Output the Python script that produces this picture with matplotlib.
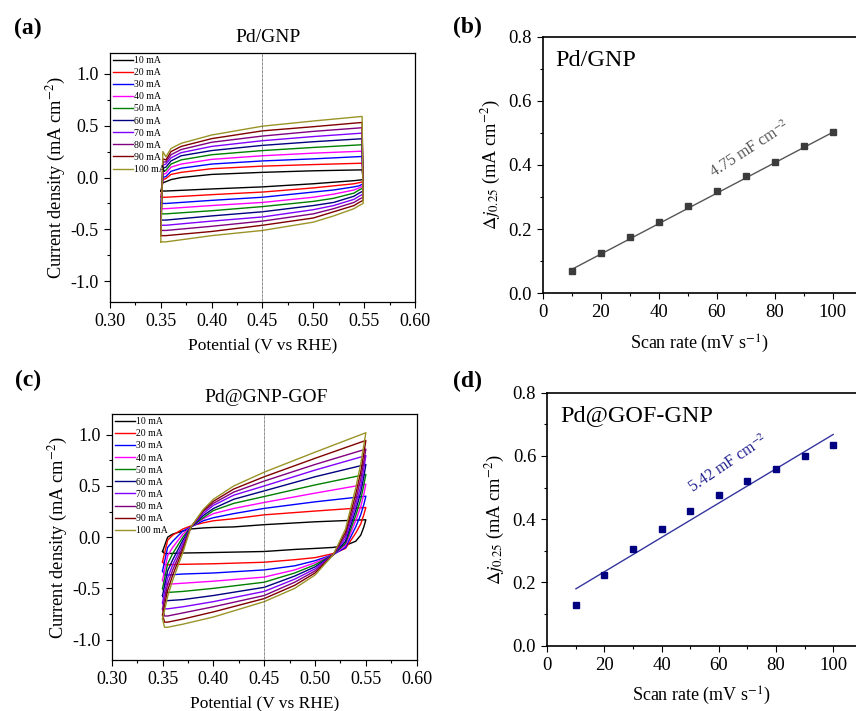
import matplotlib
matplotlib.use("Agg")
import matplotlib.pyplot as plt
from matplotlib.ticker import MultipleLocator

plt.rcParams['font.family'] = ['Liberation Serif', 'DejaVu Serif']
plt.rcParams['mathtext.fontset'] = 'stix'

# scan rate labels and colours used in both CV panels
labels = ["10 mA", "20 mA", "30 mA", "40 mA", "50 mA",
          "60 mA", "70 mA", "80 mA", "90 mA", "100 mA"]
colors = ["#000000", "#ff0000", "#0000ff", "#ff00ff", "#008000",
          "#000080", "#8000ff", "#800080", "#800000", "#9a9428"]

# (a) Pd/GNP cyclic voltammograms, anodic branch and cathodic branch
a_up_E = [0.352, 0.355, 0.36, 0.37, 0.40, 0.45, 0.50, 0.548]
a_up = [
    [-0.05, -0.04, -0.02, 0.00, 0.03, 0.05, 0.065, 0.074],
    [-0.02, -0.01, 0.03, 0.05, 0.085, 0.11, 0.125, 0.138],
    [0.00, 0.01, 0.06, 0.09, 0.13, 0.16, 0.18, 0.203],
    [0.03, 0.04, 0.10, 0.13, 0.175, 0.21, 0.235, 0.254],
    [0.06, 0.07, 0.13, 0.17, 0.22, 0.26, 0.29, 0.316],
    [0.09, 0.10, 0.16, 0.21, 0.26, 0.31, 0.345, 0.374],
    [0.12, 0.13, 0.19, 0.24, 0.30, 0.355, 0.395, 0.428],
    [0.15, 0.15, 0.22, 0.27, 0.34, 0.40, 0.445, 0.48],
    [0.18, 0.17, 0.25, 0.30, 0.375, 0.45, 0.49, 0.531],
    [0.25, 0.20, 0.28, 0.33, 0.41, 0.495, 0.545, 0.589],
]
a_dn_E = [0.549, 0.545, 0.54, 0.52, 0.50, 0.45, 0.40, 0.355]
a_dn = [
    [-0.02, -0.025, -0.03, -0.045, -0.06, -0.09, -0.11, -0.13],
    [-0.04, -0.05, -0.06, -0.08, -0.10, -0.14, -0.165, -0.19],
    [-0.06, -0.08, -0.09, -0.12, -0.14, -0.19, -0.22, -0.25],
    [-0.08, -0.10, -0.12, -0.16, -0.19, -0.24, -0.27, -0.30],
    [-0.10, -0.12, -0.15, -0.20, -0.23, -0.28, -0.32, -0.35],
    [-0.13, -0.15, -0.18, -0.24, -0.27, -0.33, -0.37, -0.41],
    [-0.16, -0.18, -0.21, -0.27, -0.31, -0.38, -0.42, -0.46],
    [-0.19, -0.21, -0.24, -0.30, -0.35, -0.42, -0.47, -0.51],
    [-0.22, -0.24, -0.27, -0.33, -0.39, -0.46, -0.52, -0.56],
    [-0.25, -0.27, -0.30, -0.37, -0.43, -0.51, -0.56, -0.62],
]

# (c) Pd@GNP-GOF cyclic voltammograms
c_up_E = [0.350, 0.355, 0.36, 0.37, 0.378, 0.39, 0.40, 0.42, 0.45, 0.50, 0.55]
c_up = [
    [-0.14, 0.00, 0.03, 0.06, 0.08, 0.09, 0.095, 0.10, 0.122, 0.15, 0.17],
    [-0.24, -0.03, 0.02, 0.08, 0.11, 0.14, 0.16, 0.18, 0.218, 0.255, 0.29],
    [-0.33, -0.10, -0.04, 0.06, 0.10, 0.16, 0.19, 0.23, 0.281, 0.345, 0.40],
    [-0.42, -0.18, -0.10, 0.03, 0.10, 0.18, 0.23, 0.28, 0.339, 0.43, 0.517],
    [-0.50, -0.26, -0.16, 0.00, 0.10, 0.19, 0.26, 0.33, 0.397, 0.51, 0.613],
    [-0.57, -0.33, -0.22, -0.03, 0.10, 0.21, 0.28, 0.37, 0.452, 0.59, 0.71],
    [-0.64, -0.40, -0.27, -0.06, 0.10, 0.23, 0.31, 0.41, 0.50, 0.655, 0.797],
    [-0.70, -0.46, -0.32, -0.09, 0.10, 0.25, 0.33, 0.44, 0.548, 0.71, 0.86],
    [-0.76, -0.52, -0.37, -0.12, 0.10, 0.26, 0.35, 0.47, 0.59, 0.77, 0.945],
    [-0.80, -0.58, -0.42, -0.15, 0.10, 0.27, 0.37, 0.50, 0.635, 0.83, 1.02],
]
c_dn_E = [0.548, 0.545, 0.54, 0.53, 0.518, 0.50, 0.48, 0.45, 0.40, 0.37, 0.355, 0.352]
c_dn = [
    [0.10, 0.02, -0.04, -0.08, -0.10, -0.11, -0.12, -0.14, -0.15, -0.155, -0.16, -0.16],
    [0.22, 0.13, 0.04, -0.11, -0.16, -0.20, -0.22, -0.245, -0.26, -0.265, -0.27, -0.27],
    [0.32, 0.22, 0.10, -0.10, -0.17, -0.23, -0.28, -0.32, -0.35, -0.36, -0.37, -0.37],
    [0.42, 0.30, 0.16, -0.08, -0.17, -0.25, -0.32, -0.39, -0.43, -0.45, -0.46, -0.46],
    [0.51, 0.37, 0.21, -0.06, -0.17, -0.27, -0.35, -0.44, -0.50, -0.53, -0.54, -0.54],
    [0.59, 0.44, 0.26, -0.04, -0.17, -0.29, -0.38, -0.49, -0.57, -0.61, -0.62, -0.62],
    [0.67, 0.50, 0.31, -0.01, -0.17, -0.31, -0.41, -0.53, -0.63, -0.68, -0.70, -0.70],
    [0.74, 0.57, 0.36, 0.02, -0.17, -0.33, -0.44, -0.57, -0.68, -0.74, -0.77, -0.77],
    [0.82, 0.64, 0.42, 0.05, -0.17, -0.35, -0.47, -0.60, -0.73, -0.80, -0.83, -0.83],
    [0.90, 0.72, 0.48, 0.08, -0.17, -0.37, -0.50, -0.63, -0.78, -0.85, -0.88, -0.88],
]

# (b) and (d) double-layer current vs scan rate
scan_rate = [10, 20, 30, 40, 50, 60, 70, 80, 90, 100]
dj_b = [0.07, 0.125, 0.175, 0.222, 0.273, 0.318, 0.365, 0.41, 0.458, 0.502]
dj_d = [0.13, 0.225, 0.305, 0.368, 0.426, 0.478, 0.52, 0.56, 0.60, 0.635]
fit_x = [10, 100]
fit_b = [0.0745, 0.502]
fit_d = [0.18, 0.668]

fig = plt.figure(figsize=(8.56, 7.11), dpi=100)


def cv_panel(ax, upE, up, dnE, dn, first_from_dn):
    for i in range(len(labels)):
        if first_from_dn:
            xs = [0.350] + upE + dnE + [0.350]
            ys = [dn[i][-1]] + up[i] + dn[i] + [dn[i][-1]]
        else:
            xs = upE + dnE + [upE[0]]
            ys = up[i] + dn[i] + [up[i][0]]
        ax.plot(xs, ys, color=colors[i], lw=1.0, label=labels[i])
    ax.axvline(0.45, color="#555555", lw=0.6, ls=(0, (1, 0.6)))
    ax.set_xlim(0.30, 0.60)
    ax.set_ylim(-1.2, 1.2)
    ax.xaxis.set_major_locator(MultipleLocator(0.05))
    ax.xaxis.set_minor_locator(MultipleLocator(0.025))
    ax.yaxis.set_minor_locator(MultipleLocator(0.25))
    ax.set_yticks([-1.0, -0.5, 0.0, 0.5, 1.0])
    ax.set_yticklabels(["-1.0", "-0.5", "0.0", "0.5", "1.0"])
    ax.xaxis.set_major_formatter(matplotlib.ticker.FormatStrFormatter('%.2f'))
    ax.tick_params(which="both", direction="out", labelsize=13, top=False, right=False)
    ax.tick_params(which="major", length=4.5, width=0.8)
    ax.tick_params(which="minor", length=2.5, width=0.8)
    ax.set_xlabel("Potential (V vs RHE)", fontsize=12.5, labelpad=5)
    ax.set_ylabel("Current density (mA cm$^{-2}$)", fontsize=13.2, labelpad=2)
    ax.legend(loc="upper left", frameon=False, fontsize=7, handlelength=2.1,
              handletextpad=0.1, labelspacing=0.32, borderaxespad=0.1,
              borderpad=0.2)
    for s in ax.spines.values():
        s.set_linewidth(0.9)


def rate_panel(ax, dj, fit, mcol, lcol, name, slope_txt, tpos, rot, tcol):
    ax.plot(fit_x, fit, color=lcol, lw=1.0)
    ax.plot(scan_rate, dj, ls="none", marker="s", ms=5, color=mcol)
    ax.set_xlim(0, 108)
    ax.set_ylim(0, 0.8)
    ax.xaxis.set_major_locator(MultipleLocator(20))
    ax.xaxis.set_minor_locator(MultipleLocator(10))
    ax.yaxis.set_major_locator(MultipleLocator(0.2))
    ax.yaxis.set_minor_locator(MultipleLocator(0.1))
    ax.yaxis.set_major_formatter(matplotlib.ticker.FormatStrFormatter('%.1f'))
    ax.tick_params(which="both", direction="out", labelsize=13.5, top=False, right=False)
    ax.tick_params(which="major", length=4.5, width=0.8)
    ax.tick_params(which="minor", length=2.5, width=0.8)
    ax.spines["right"].set_visible(False)
    for s in ax.spines.values():
        s.set_linewidth(1.2)
    ax.set_xlabel("Scan rate (mV s$^{-1}$)", fontsize=13, labelpad=8)
    ax.set_ylabel(r"$\Delta j_{0.25}$ (mA cm$^{-2}$)", fontsize=13.2, labelpad=4)
    ax.text(4.5, 0.727, name, fontsize=17.5, va="center", ha="left")
    ax.text(tpos[0], tpos[1], slope_txt, fontsize=11.5, rotation=rot,
            color=tcol, ha="center", va="center", rotation_mode="anchor")


ax_a = fig.add_axes([0.1285, 0.5752, 0.3563, 0.3502])
cv_panel(ax_a, a_up_E, a_up, a_dn_E, a_dn, True)
ax_c = fig.add_axes([0.1305, 0.0717, 0.3563, 0.3456])
cv_panel(ax_c, c_up_E, c_up, c_dn_E, c_dn, False)

ax_b = fig.add_axes([0.634, 0.5875, 0.366, 0.3609])
rate_panel(ax_b, dj_b, fit_b, "#3c3c3c", "#555555", "Pd/GNP",
           "4.75 mF cm$^{-2}$", (71.5, 0.447), 33, "#555555")
ax_d = fig.add_axes([0.6394, 0.0918, 0.3606, 0.3558])
rate_panel(ax_d, dj_d, fit_d, "#000080", "#3535a0", "Pd@GOF-GNP",
           "5.42 mF cm$^{-2}$", (63.5, 0.574), 34, "#1f1f8f")

fig.text(268 / 856, 1 - 38 / 711, "Pd/GNP", fontsize=14, ha="center", va="center")
fig.text(266 / 856, 1 - 398 / 711, "Pd@GNP-GOF", fontsize=14, ha="center", va="center")
for lab, x, y in [("(a)", 28, 28), ("(b)", 467, 27), ("(c)", 28, 380), ("(d)", 467, 381)]:
    fig.text(x / 856, 1 - y / 711, lab, fontsize=17, fontweight="bold",
             ha="center", va="center")

fig.savefig("out.png", dpi=100)
